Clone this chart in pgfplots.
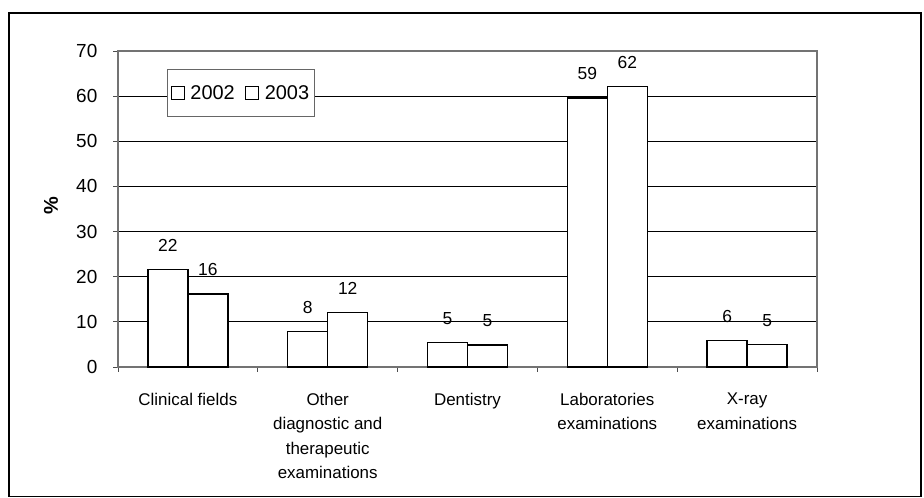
\documentclass[border=0pt]{standalone}
\usepackage{pgfplots}
\pgfplotsset{compat=1.18}
\usepackage{pgfplotstable}
\usepackage{fontspec}
\setmainfont{Liberation Sans}
\pgfplotstableread{
x y lab
1 21.6 22
2 7.8 8
3 5.4 5
4 59.6 59
5 5.8 6
}\dataA
\pgfplotstableread{
x y lab
1 16.2 16
2 12.0 12
3 4.9 5
4 62.2 62
5 4.95 5
}\dataB
\begin{document}
\begin{tikzpicture}[x=1bp,y=1bp]
\useasboundingbox (0,0) rectangle (924,498);
\draw[line width=1.6bp] (9,1.5) rectangle (921,485);
\begin{axis}[
  at={(118bp,131bp)}, anchor=south west,
  scale only axis, width=699bp, height=316bp,
  xmin=0.5, xmax=5.5, ymin=0, ymax=70,
  ybar=0pt, bar width=40bp,
  ytick={0,10,...,70},
  ymajorgrids, grid style={black, line width=0.9bp},
  axis line style={draw=black!55, line width=1.3bp},
  xtick={1,2,3,4,5},
  xticklabels={Clinical fields,{Other\\diagnostic and\\therapeutic\\examinations},Dentistry,{Laboratories\\examinations},{X-ray\\examinations}},
  minor xtick={0.5,1.5,2.5,3.5,4.5,5.5},
  tick pos=left,
  tick align=outside,
  major tick length=5bp, minor tick length=5bp,
  tick style={black!70, line width=0.9bp},
  major x tick style={draw=none},
  /pgf/number format/assume math mode=true,
  yticklabel style={font=\fontsize{19}{19}\selectfont, anchor=east, inner sep=0pt, xshift=-15.5bp},
  xticklabel style={font=\fontsize{17}{24.5}\selectfont, align=center, anchor=north, inner sep=0pt, yshift=-21bp},
  ylabel={\%},
  ylabel style={font=\fontsize{20}{20}\selectfont\bfseries, at={(axis description cs:-0.0959,0.51)}, anchor=center},
  nodes near coords,
  point meta=explicit symbolic,
  every node near coord/.append style={font=\fontsize{17.5}{17.5}\selectfont, anchor=center, yshift=24bp},
  legend columns=2,
  legend image code/.code={\draw[line width=1bp, draw=black, fill=white] (0bp,-6.5bp) rectangle (13bp,6.5bp);},
  legend style={at={(0.0701,0.943)}, anchor=north west, draw=black!60, fill=white, line width=1bp,
    font=\fontsize{20}{20}\selectfont, inner xsep=3bp, inner ysep=14bp,
    /tikz/every odd column/.append style={column sep=4bp},
    /tikz/every even column/.append style={column sep=8bp}},
  clip=false,
]
\addplot[draw=black, fill=white, line width=1.3bp] table[x=x, y=y, meta=lab] {\dataA};
\addplot[draw=black, fill=white, line width=1.3bp] table[x=x, y=y, meta=lab] {\dataB};
\legend{2002,2003}
\end{axis}
\end{tikzpicture}
\end{document}
